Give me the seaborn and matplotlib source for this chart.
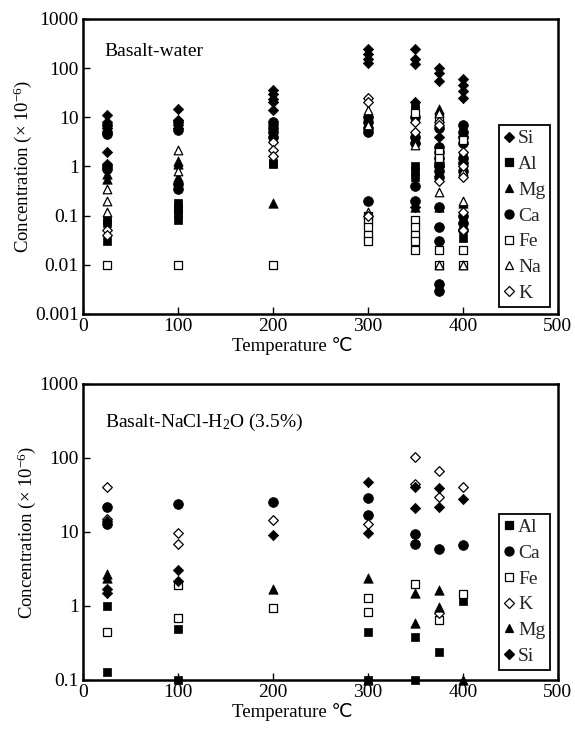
import matplotlib
matplotlib.use("Agg")
import matplotlib.pyplot as plt
import seaborn as sns
import pandas as pd
from matplotlib.lines import Line2D
from matplotlib.ticker import NullLocator, FixedLocator, FixedFormatter

sns.set_theme(style="ticks")
plt.rcParams["font.family"] = ["Liberation Serif", "DejaVu Sans"]
plt.rcParams["mathtext.fontset"] = "custom"
plt.rcParams["mathtext.rm"] = "Liberation Serif"
plt.rcParams["mathtext.it"] = "Liberation Serif:italic"

# ---- Basalt-water: concentration (x10^-6) per temperature column ----
water_si = {25: [11, 8, 6, 2, 1.1], 100: [15, 9, 7, 6], 200: [36, 30, 24, 20, 14, 7],
            300: [240, 190, 150, 130], 350: [250, 150, 120, 20, 0.15],
            375: [100, 80, 55, 4, 1.0], 400: [60, 45, 35, 25]}
water_al = {25: [0.08, 0.07, 0.03], 100: [0.18, 0.15, 0.13, 0.11, 0.08], 200: [1.2, 1.1],
            300: [0.07, 0.05], 350: [18, 14, 1.0, 0.8, 0.6], 375: [1.8], 400: [1.5, 0.035]}
water_mg = {25: [0.7, 0.55], 100: [1.3, 1.1, 0.6], 200: [0.18], 300: [],
            350: [0.15], 375: [15, 0.15], 400: [0.18]}
water_ca = {25: [7, 5, 4.5, 1.0, 0.9], 100: [8, 5.5, 0.45, 0.35], 200: [8, 6, 5, 4],
            300: [10, 8, 6, 5, 0.2], 350: [10, 4, 3, 0.4, 0.2],
            375: [6, 2.5, 2, 1.5, 1.2, 1.0, 0.8, 0.6, 0.15, 0.06, 0.03, 0.004, 0.003],
            400: [7, 5, 4, 3, 1.5, 1.2, 0.8, 0.1, 0.07, 0.05]}
water_fe = {25: [0.01], 100: [0.01], 200: [0.01], 300: [0.1, 0.08, 0.06, 0.04, 0.03],
            350: [12, 0.08, 0.06, 0.04, 0.03, 0.02], 375: [10, 2, 1.5, 0.02, 0.01],
            400: [3.5, 0.02, 0.01]}
water_na = {25: [0.35, 0.2, 0.12], 100: [2.2, 0.8], 200: [], 300: [14, 7, 0.12],
            350: [2.7], 375: [12, 0.3, 0.01], 400: [0.8, 0.2, 0.01]}
water_k = {25: [0.05, 0.04], 100: [], 200: [3.2, 2.2, 1.6], 300: [25, 20, 0.1],
           350: [8, 5], 375: [8, 7, 0.5], 400: [2, 1, 0.6, 0.12, 0.05]}

# ---- Basalt-NaCl-H2O (3.5%) ----
brine_al = {25: [1.0, 0.13], 100: [0.49, 0.1], 300: [0.45, 0.1], 350: [0.38, 0.1],
            375: [0.24], 400: [1.18]}
brine_ca = {25: [22, 13], 100: [24], 200: [25], 300: [29, 17], 350: [9.4, 6.9],
            375: [5.9], 400: [6.7]}
brine_fe = {25: [0.45], 100: [1.9, 0.69], 200: [0.95], 300: [1.3, 0.83], 350: [2.0],
            375: [0.65], 400: [1.45]}
brine_k = {25: [41, 15], 100: [9.8, 6.9], 200: [14.5], 300: [13], 350: [102, 45],
           375: [66, 30, 0.8], 400: [40]}
brine_mg = {25: [2.7, 2.4], 200: [1.7], 300: [2.4, 0.1], 350: [1.5, 0.59],
            375: [1.66, 0.98], 400: [0.1]}
brine_si = {25: [14, 1.7, 1.5], 100: [3.1, 2.2], 200: [9.1], 300: [48, 9.7],
            350: [40, 21], 375: [39, 22], 400: [28]}

water_series = [("Si", water_si), ("Al", water_al), ("Mg", water_mg), ("Ca", water_ca),
                ("Fe", water_fe), ("Na", water_na), ("K", water_k)]
brine_series = [("Al", brine_al), ("Ca", brine_ca), ("Fe", brine_fe), ("K", brine_k),
                ("Mg", brine_mg), ("Si", brine_si)]

# marker, filled, scatter size, legend size
STYLE = {
    "Si": ("D", True, 28, 5.0),
    "Al": ("s", True, 40, 5.5),
    "Mg": ("^", True, 46, 6.0),
    "Ca": ("o", True, 50, 6.5),
    "Fe": ("s", False, 34, 5.5),
    "Na": ("^", False, 38, 6.0),
    "K": ("D", False, 24, 5.0),
}


def to_frame(columns):
    rows = [(t, c) for t, vals in columns.items() for c in vals]
    return pd.DataFrame(rows, columns=["Temperature", "Concentration"])


def draw_panel(ax, series, ylim, yticks, ylabels, title, title_y, legend_y):
    for name, columns in series:
        marker, filled, size, _ = STYLE[name]
        df = to_frame(columns)
        if df.empty:
            continue
        sns.scatterplot(data=df, x="Temperature", y="Concentration", ax=ax,
                        marker=marker, s=size, color="black",
                        facecolor="black" if filled else "white",
                        edgecolor="black", linewidth=0.9 if not filled else 0.5,
                        clip_on=False, zorder=3, legend=False)
    ax.set_yscale("log")
    ax.set_xlim(0, 500)
    ax.set_ylim(*ylim)
    ax.set_xticks([0, 100, 200, 300, 400, 500])
    ax.set_xticklabels(["0", "100", "200", "300", "400", "500"])
    ax.yaxis.set_major_locator(FixedLocator(yticks))
    ax.yaxis.set_major_formatter(FixedFormatter(ylabels))
    ax.yaxis.set_minor_locator(NullLocator())
    ax.tick_params(direction="in", length=5, width=1, labelsize=14, pad=3,
                   color="black", labelcolor="black")
    for sp in ax.spines.values():
        sp.set_visible(True)
        sp.set_linewidth(1.8)
        sp.set_color("black")
    ax.set_xlabel("Temperature \u2103", fontsize=13.5, labelpad=1, color="black")
    ax.xaxis.label.set_x(0.44)
    ax.set_ylabel("Concentration (\u00d7 10$^{-6}$)", fontsize=13.5, labelpad=1,
                  color="black")
    ax.text(0.046, title_y, title, transform=ax.transAxes, fontsize=14,
            ha="left", va="center", color="black")

    handles = []
    for name, _ in series:
        marker, filled, _, msize = STYLE[name]
        handles.append(Line2D([], [], linestyle="none", marker=marker, markersize=msize,
                              markerfacecolor="black" if filled else "white",
                              markeredgecolor="black", markeredgewidth=0.9,
                              label=name))
    leg = ax.legend(handles=handles, loc="lower right",
                    bbox_to_anchor=(0.984, legend_y), borderaxespad=0,
                    fontsize=14, frameon=True, fancybox=False,
                    handlelength=0.55, handletextpad=0.2, borderpad=0.25,
                    labelspacing=0.42)
    frame = leg.get_frame()
    frame.set_edgecolor("black")
    frame.set_linewidth(1.3)
    frame.set_alpha(1)


fig = plt.figure(figsize=(5.75, 7.31), dpi=100)
ax_top = fig.add_axes([0.1443, 0.5705, 0.826, 0.4036])
ax_bot = fig.add_axes([0.1443, 0.0698, 0.826, 0.4050])

draw_panel(ax_top, water_series, (0.001, 1000),
           [0.001, 0.01, 0.1, 1, 10, 100, 1000],
           ["0.001", "0.01", "0.1", "1", "10", "100", "1000"],
           "Basalt-water", 0.888, 0.024)
draw_panel(ax_bot, brine_series, (0.1, 1000),
           [0.1, 1, 10, 100, 1000],
           ["0.1", "1", "10", "100", "1000"],
           "Basalt-NaCl-H$_2$O (3.5%)", 0.87, 0.034)

fig.savefig("out.png", dpi=100, facecolor="white")
